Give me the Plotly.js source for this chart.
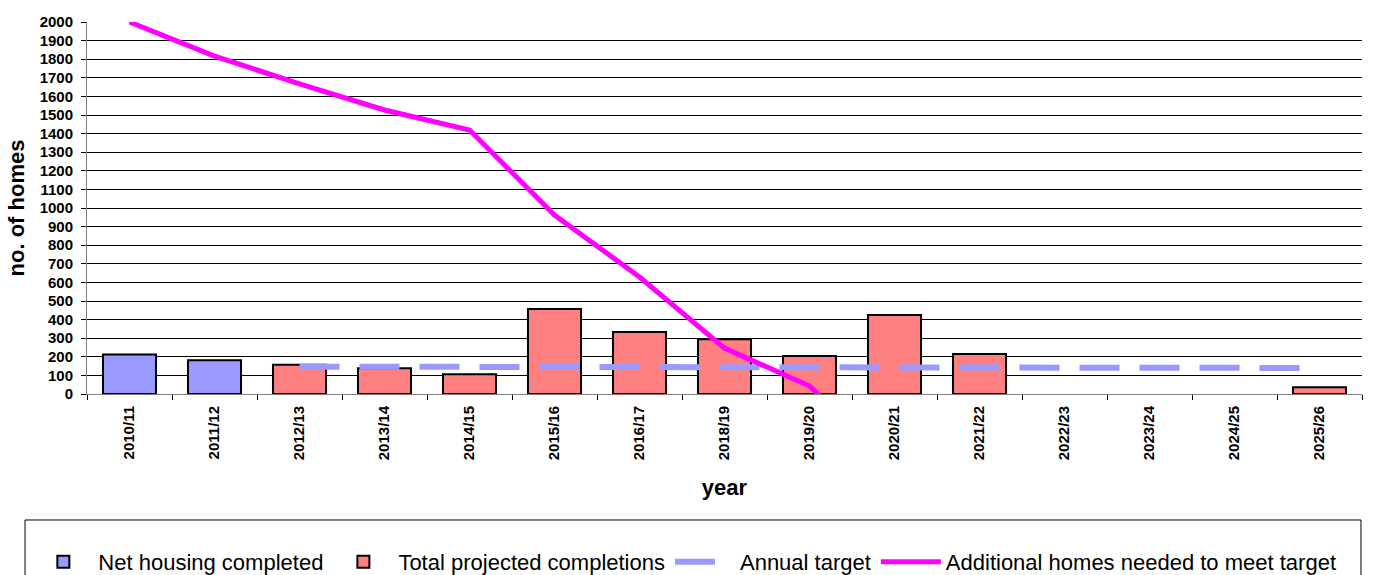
<!DOCTYPE html>
<html>
<head>
<meta charset="utf-8">
<script src="https://cdn.plot.ly/plotly-3.0.1.min.js"></script>
<style>html,body{margin:0;padding:0;background:#fff;}#chart{width:1373px;height:575px;}</style>
</head>
<body>
<div id="chart"></div>
<script>
const years = ["2010/11","2011/12","2012/13","2013/14","2014/15","2015/16","2016/17","2018/19","2019/20","2020/21","2021/22","2022/23","2023/24","2024/25","2025/26"];
const netCompleted = [213, 182, null, null, null, null, null, null, null, null, null, null, null, null, null];
const projectedCompletions = [null, null, 157, 138, 106, 457, 333, 294, 204, 425, 215, null, null, null, 36];
const annualTarget = [null, null, 147, 147, 147, 147, 147, 147, 147, 147, 147, 147, 147, 142, 140];
const additionalNeeded = [2000, 1817, 1667, 1527, 1419, 962, 629, 247, 43, -382, null, null, null, null, null];
const yTicks = [0,100,200,300,400,500,600,700,800,900,1000,1100,1200,1300,1400,1500,1600,1700,1800,1900,2000];

const fontFam = "Arial, 'Liberation Sans', sans-serif";
const traces = [
  {type:'bar', name:'Net housing completed', x:years, y:netCompleted,
   marker:{color:'#9999FF', line:{color:'#000', width:2}}},
  {type:'bar', name:'Total projected completions', x:years, y:projectedCompletions,
   marker:{color:'#FF8080', line:{color:'#000', width:2}}},
  {type:'scatter', mode:'lines', name:'Annual target', x:years, y:annualTarget,
   line:{color:'#9999FF', width:6, dash:'40px,20px'}},
  {type:'scatter', mode:'lines', name:'Additional homes needed to meet target', x:years, y:additionalNeeded,
   line:{color:'#FF00FF', width:5}}
];
const layout = {
  width:1373, height:575,
  margin:{l:87, r:11, t:22, b:181, autoexpand:false},
  paper_bgcolor:'#fff', plot_bgcolor:'#fff',
  barmode:'overlay', bargap:0.376,
  font:{family:fontFam, color:'#000'},
  showlegend:true,
  legend:{orientation:'h', x:-0.046, xanchor:'left', y:-0.395, yanchor:'top',
          font:{size:22, family:fontFam}, itemwidth:60, bgcolor:'rgba(0,0,0,0)', traceorder:'normal'},
  xaxis:{type:'category', categoryorder:'array', categoryarray:years, automargin:false,
         tickangle:-90, tickfont:{size:15, weight:'bold', family:fontFam},
         ticks:'outside', tickson:'boundaries', ticklen:5, tickcolor:'#000', ticklabelstandoff:5,
         showline:true, linecolor:'#808080', linewidth:1,
         showgrid:false, zeroline:false,
         title:{text:'year', font:{size:22, weight:'bold', family:fontFam}, standoff:20}},
  yaxis:{range:[0,2000], tickvals:yTicks, ticktext:yTicks.map(String), automargin:false,
         tickfont:{size:15, weight:'bold', family:fontFam},
         ticks:'outside', ticklen:5, tickcolor:'#000', ticklabelstandoff:5,
         showline:true, linecolor:'#808080', linewidth:1,
         showgrid:true, gridcolor:'#000', gridwidth:1, zeroline:false,
         title:{text:'no. of homes', font:{size:22, weight:'bold', family:fontFam}, standoff:8}},
  shapes:[{type:'rect', xref:'paper', yref:'paper', x0:-0.0486, x1:0.9992, y0:-0.56, y1:-0.3387,
           line:{color:'#000', width:1}, fillcolor:'rgba(0,0,0,0)', layer:'below'}]
};
Plotly.newPlot('chart', traces, layout, {displayModeBar:false, staticPlot:true});
</script>
</body>
</html>
